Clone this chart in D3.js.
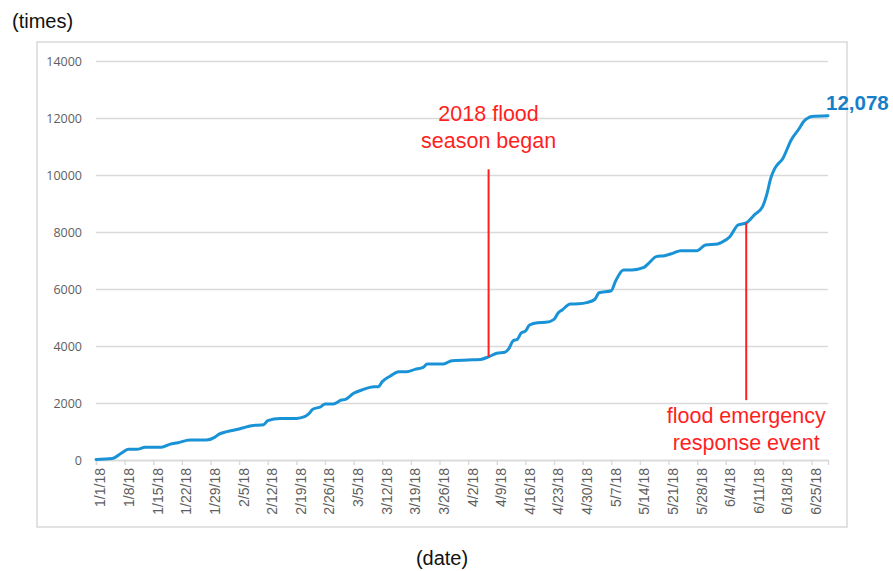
<!DOCTYPE html>
<html>
<head>
<meta charset="utf-8">
<script src="https://cdn.jsdelivr.net/npm/d3@7"></script>
<style>
  html, body { margin: 0; padding: 0; background: #fff; }
  svg { display: block; }
</style>
</head>
<body>
<svg id="chart" width="893" height="571"></svg>
<script>
// ---- data ----
const dates = ["1/1/18","1/5/18","1/7/18","1/9/18","1/11/18","1/13/18","1/17/18","1/19/18","1/21/18","1/24/18",
  "1/28/18","1/30/18","1/31/18","2/2/18","2/5/18","2/6/18","2/8/18","2/11/18","2/12/18","2/15/18",
  "2/19/18","2/21/18","2/22/18","2/23/18","2/25/18","2/26/18","2/28/18","3/2/18","3/3/18","3/5/18",
  "3/7/18","3/10/18","3/11/18","3/12/18","3/14/18","3/16/18","3/18/18","3/20/18","3/22/18","3/23/18",
  "3/27/18","3/29/18","4/2/18","4/5/18","4/7/18","4/9/18","4/11/18","4/12/18","4/13/18","4/14/18",
  "4/15/18","4/16/18","4/17/18","4/19/18","4/21/18","4/23/18","4/24/18","4/25/18","4/27/18","4/29/18",
  "5/1/18","5/3/18","5/4/18","5/7/18","5/8/18","5/10/18","5/12/18","5/15/18","5/16/18","5/18/18",
  "5/20/18","5/22/18","5/24/18","5/28/18","5/30/18","6/2/18","6/3/18","6/5/18","6/7/18","6/9/18",
  "6/11/18","6/13/18","6/14/18","6/15/18","6/16/18","6/18/18","6/20/18","6/22/18","6/23/18","6/24/18",
  "6/25/18","6/29/18"];
const counts = [20,50,220,375,375,445,445,550,608,700,
  700,795,900,995,1090,1130,1205,1240,1380,1460,
  1460,1520,1615,1780,1870,1965,1965,2105,2130,2340,
  2455,2570,2570,2750,2950,3100,3100,3180,3250,3370,
  3370,3485,3510,3530,3620,3745,3780,3920,4185,4230,
  4460,4520,4735,4820,4830,4935,5160,5265,5475,5480,
  5520,5640,5870,5940,6260,6670,6670,6760,6880,7135,
  7170,7250,7345,7345,7545,7580,7640,7835,8245,8320,
  8600,8890,9300,9885,10235,10590,11230,11640,11870,11990,
  12050,12078];
const yTicks = [0,2000,4000,6000,8000,10000,12000,14000];
const xTickDates = ["1/1/18","1/8/18","1/15/18","1/22/18","1/29/18","2/5/18","2/12/18","2/19/18","2/26/18",
  "3/5/18","3/12/18","3/19/18","3/26/18","4/2/18","4/9/18","4/16/18","4/23/18","4/30/18","5/7/18",
  "5/14/18","5/21/18","5/28/18","6/4/18","6/11/18","6/18/18","6/25/18"];
const annotations = [
  {date: "4/7/18", top: 10200, lines: ["2018 flood", "season began"], textDir: "above"},
  {date: "6/9/18", bottom: 2100, lines: ["flood emergency", "response event"], textDir: "below"}
];
const finalLabel = "12,078";
const yTitle = "(times)";
const xTitle = "(date)";

// ---- drawing ----
const parse = d3.utcParse("%m/%d/%y");
const fmt = d3.utcFormat("%-m/%-d/%y");
const data = dates.map((d, i) => ({date: parse(d), value: counts[i]}));

const svg = d3.select("#chart");
const x = d3.scaleUtc().domain([parse("1/1/18"), parse("6/29/18")]).range([96, 828]);
const y = d3.scaleLinear().domain([0, 14000]).range([460, 61]);

const grey = "#d9d9d9";
const tickText = "#5e5e5e";
const red = "#ff1f1f";
const blue = "#1a93d6";

// outer frame
svg.append("rect").attr("x", 37).attr("y", 42).attr("width", 810).attr("height", 485)
  .attr("fill", "none").attr("stroke", grey).attr("stroke-width", 1.5);

// gridlines + y labels
const yAxis = d3.axisLeft(y).tickValues(yTicks).tickSize(-(828 - 96)).tickPadding(14)
  .tickFormat(d3.format("d"));
const gy = svg.append("g").attr("transform", "translate(96,0)").call(yAxis);
gy.select(".domain").remove();
gy.selectAll(".tick line").attr("stroke", grey).attr("stroke-width", 1.4);
gy.selectAll(".tick text").attr("fill", tickText)
  .style("font-family", "'Open Sans', 'Liberation Sans', sans-serif").style("font-size", "12.5px");

// x axis
const xAxis = d3.axisBottom(x).tickValues(xTickDates.map(parse)).tickSize(5).tickFormat(fmt);
const gx = svg.append("g").attr("transform", "translate(0,460)").call(xAxis);
gx.select(".domain").attr("stroke", grey).attr("stroke-width", 1.4);
gx.selectAll(".tick line").attr("stroke", grey).attr("stroke-width", 1.4);
gx.selectAll(".tick text")
  .attr("fill", tickText)
  .style("font-family", "'Liberation Sans', Arial, sans-serif").style("font-size", "14px")
  .attr("text-anchor", "end")
  .attr("transform", "translate(4,8) rotate(-90)")
  .attr("x", 0).attr("y", 0).attr("dy", "0.35em");

// line
const line = d3.line().x(d => x(d.date)).y(d => y(d.value)).curve(d3.curveMonotoneX);
svg.append("path").datum(data).attr("d", line)
  .attr("fill", "none").attr("stroke", blue).attr("stroke-width", 3)
  .attr("stroke-linejoin", "round").attr("stroke-linecap", "round");

// annotations
const valueAt = dStr => {
  const t = parse(dStr);
  const bis = d3.bisector(d => d.date).left;
  const i = bis(data, t);
  if (i <= 0) return data[0].value;
  const a = data[i - 1], b = data[i];
  const f = (t - a.date) / (b.date - a.date);
  return a.value + f * (b.value - a.value);
};
const fontAnn = "'Liberation Sans', Arial, sans-serif";
annotations.forEach(a => {
  const ax = x(parse(a.date));
  const v = valueAt(a.date);
  if (a.textDir === "above") {
    svg.append("line").attr("x1", ax).attr("x2", ax).attr("y1", y(a.top)).attr("y2", y(v))
      .attr("stroke", red).attr("stroke-width", 2);
    a.lines.forEach((t, i) => svg.append("text").attr("x", ax).attr("y", 120.5 + i * 27)
      .attr("text-anchor", "middle").attr("fill", red)
      .style("font-family", fontAnn).style("font-size", "21.5px").text(t));
  } else {
    svg.append("line").attr("x1", ax).attr("x2", ax).attr("y1", y(v)).attr("y2", y(a.bottom))
      .attr("stroke", red).attr("stroke-width", 2);
    a.lines.forEach((t, i) => svg.append("text").attr("x", ax).attr("y", 422.5 + i * 27)
      .attr("text-anchor", "middle").attr("fill", red)
      .style("font-family", fontAnn).style("font-size", "21.5px").text(t));
  }
});

// final value label
const last = data[data.length - 1];
svg.append("text").attr("x", x(last.date) - 2).attr("y", 110)
  .attr("fill", "#1580c8").style("font-family", "'Liberation Sans', Arial, sans-serif")
  .style("font-weight", "bold").style("font-size", "20.5px").text(finalLabel);

// axis titles
svg.append("text").attr("x", 12).attr("y", 28).attr("fill", "#111")
  .style("font-family", "'Liberation Sans', Arial, sans-serif").style("font-size", "20px").text(yTitle);
svg.append("text").attr("x", 442).attr("y", 565).attr("text-anchor", "middle").attr("fill", "#111")
  .style("font-family", "'Liberation Sans', Arial, sans-serif").style("font-size", "20px").text(xTitle);
</script>
</body>
</html>
